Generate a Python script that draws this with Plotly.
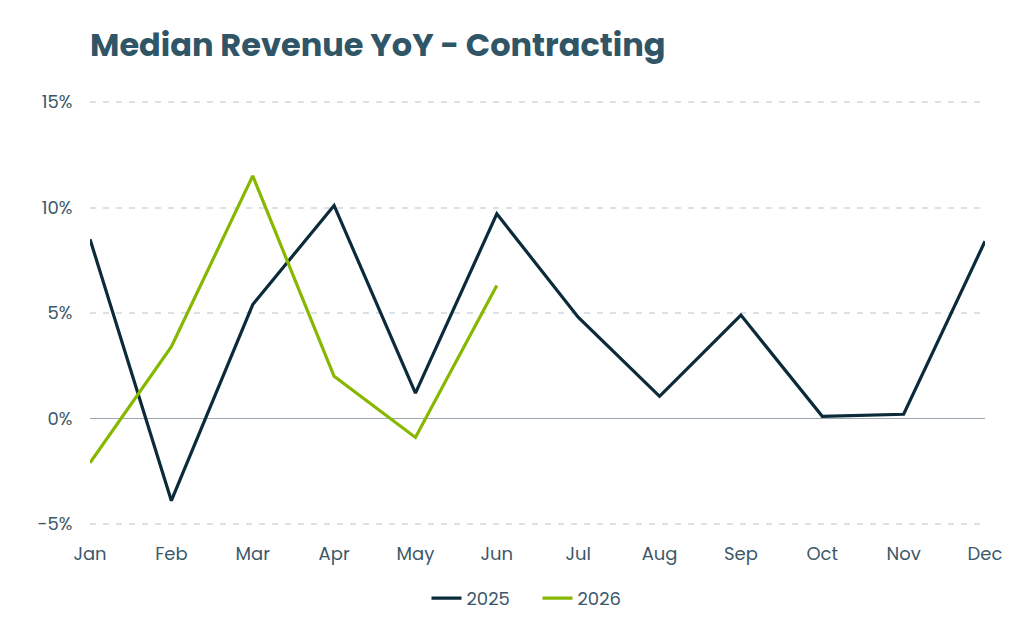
import plotly.graph_objects as go

months = ["Jan", "Feb", "Mar", "Apr", "May", "Jun",
          "Jul", "Aug", "Sep", "Oct", "Nov", "Dec"]
yoy_2025 = [8.5, -3.9, 5.4, 10.1, 1.2, 9.7, 4.8, 1.05, 4.9, 0.1, 0.2, 8.4]
months_2026 = months[:6]
yoy_2026 = [-2.1, 3.4, 11.5, 2.0, -0.9, 6.3]
y_ticks = [-5, 0, 5, 10, 15]

FONT = "Poppins, Inter, 'Noto Sans', sans-serif"
TEXT = "#3d5868"

fig = go.Figure()
fig.add_trace(go.Scatter(x=months, y=yoy_2025, name="2025", mode="lines",
                         line=dict(color="#0b2a3a", width=3.2)))
fig.add_trace(go.Scatter(x=months_2026, y=yoy_2026, name="2026", mode="lines",
                         line=dict(color="#86b800", width=3.2)))

# page body has an 8px margin, so margins are offset to land the plot where the reference has it
fig.update_layout(
    width=1024, height=640,
    margin=dict(l=82, r=47, t=92, b=122),
    paper_bgcolor="white", plot_bgcolor="white",
    font=dict(family=FONT, size=18, color=TEXT),
    title=dict(text="<b>Median Revenue YoY - Contracting</b>",
               x=82 / 1024, xanchor="left", y=1 - 37 / 640, yanchor="middle",
               font=dict(family=FONT, size=32, color="#2f5566")),
    legend=dict(orientation="h", x=0.5, xanchor="center", y=-0.17, yanchor="middle",
                font=dict(size=18, color=TEXT), itemwidth=30,
                entrywidth=66, entrywidthmode="pixels"),
    showlegend=True,
)
fig.update_xaxes(
    range=[0, 11], showgrid=False, showline=False, zeroline=False,
    ticks="outside", ticklen=11, tickcolor="rgba(0,0,0,0)",
    tickfont=dict(size=18, color=TEXT),
)
fig.update_yaxes(
    range=[-5.1, 15.1], tickvals=y_ticks, ticktext=[f"{v}%" for v in y_ticks],
    showgrid=True, gridcolor="#dbe1e6", griddash="6px,7px", gridwidth=1.5,
    zeroline=True, zerolinecolor="#9aa7ae", zerolinewidth=1,
    showline=False, ticks="outside", ticklen=13, tickcolor="rgba(0,0,0,0)",
    tickfont=dict(size=18, color=TEXT),
)

fig.write_html("out.html")
